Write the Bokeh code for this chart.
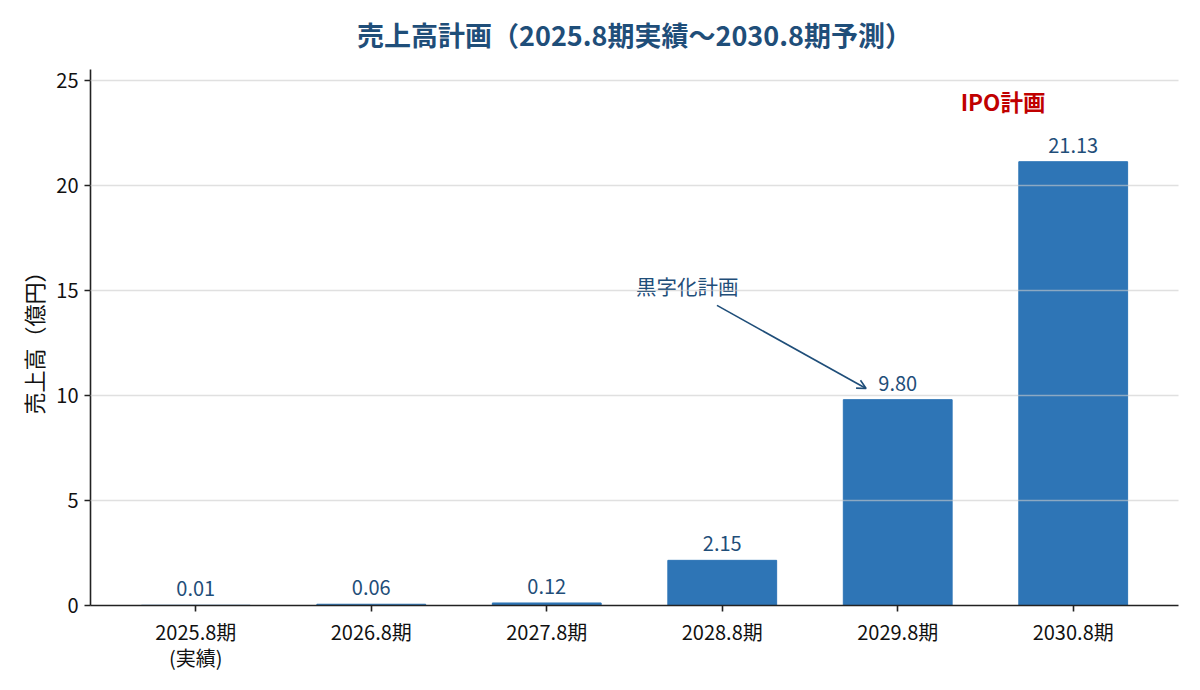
from bokeh.plotting import figure
from bokeh.models import ColumnDataSource, Range1d, FixedTicker, Label, Arrow, OpenHead, LabelSet
from bokeh.core.properties import value
from bokeh.embed import file_html
from bokeh.resources import INLINE

categories = ["2025.8期\n(実績)", "2026.8期", "2027.8期", "2028.8期", "2029.8期", "2030.8期"]
sales = [0.01, 0.06, 0.12, 2.15, 9.80, 21.13]
y_ticks = [0, 5, 10, 15, 20, 25]
title_text = "売上高計画（2025.8期実績～2030.8期予測）"

FONT = "Noto Sans CJK JP"
BAR = "#2e75b6"
DARK = "#1f4e79"

xs = list(range(len(categories)))
src = ColumnDataSource(dict(x=xs, top=sales, label=[f"{v:.2f}" for v in sales]))

X0, X1 = -0.6, len(categories) - 0.4
YMAX = 25.52
p = figure(width=1200, height=690, output_backend="svg", toolbar_location=None,
           x_range=Range1d(X0, X1), y_range=Range1d(0, YMAX),
           min_border_left=90, min_border_right=22, min_border_top=69, min_border_bottom=85)

p.title.text = title_text
p.title.align = "center"
p.title.vertical_align = "top"
p.title.text_font = FONT
p.title.text_font_size = "27px"
p.title.text_font_style = "bold"
p.title.text_color = DARK
p.title.text_line_height = 0.7
p.title.standoff = 28

p.vbar(x="x", top="top", width=0.62, bottom=0, source=src, color=BAR)

labels = LabelSet(x="x", y="top", text="label", source=src, text_align="center",
                  text_baseline="bottom", y_offset=9, text_font=value(FONT),
                  text_font_size=value("20px"), text_color=DARK)
p.add_layout(labels)

p.outline_line_color = None
p.xgrid.grid_line_color = None
p.ygrid.grid_line_color = "#cccccc"
p.ygrid.grid_line_alpha = 0.6
p.ygrid.grid_line_width = 1.3
p.ygrid.level = "overlay"

for ax in (p.xaxis[0], p.yaxis[0]):
    ax.axis_line_color = "#222222"
    ax.axis_line_width = 1.6
    ax.major_tick_line_color = "#222222"
    ax.major_tick_line_width = 1.6
    ax.major_tick_out = 6
    ax.major_tick_in = 0
    ax.minor_tick_line_color = None
    ax.major_label_text_font = FONT
    ax.major_label_text_font_size = "20px"
    ax.major_label_text_color = "#111111"
    ax.major_label_text_line_height = 0.9

p.xaxis.ticker = FixedTicker(ticks=xs)
p.xaxis.major_label_overrides = {i: c for i, c in enumerate(categories)}
p.xaxis.major_label_standoff = 5
p.yaxis.ticker = FixedTicker(ticks=y_ticks)
p.yaxis.major_label_standoff = 6
p.yaxis.axis_label = "売上高（億円）"
p.yaxis.axis_label_text_font = FONT
p.yaxis.axis_label_text_font_size = "22px"
p.yaxis.axis_label_text_font_style = "normal"
p.yaxis.axis_label_text_color = "#111111"
p.yaxis.axis_label_standoff = 4

# annotations
ann_text_x, ann_text_y = 2.80, 15.2
arrow_start = (2.97, 14.29)
arrow_end = (3.82, 10.33)
p.add_layout(Label(x=ann_text_x, y=ann_text_y, text="黒字化計画", text_align="center",
                   text_baseline="middle", text_font=FONT, text_font_size="20.5px",
                   text_color=DARK))
p.add_layout(Arrow(x_start=arrow_start[0], y_start=arrow_start[1], x_end=arrow_end[0], y_end=arrow_end[1],
                   line_color=DARK, line_width=1.6,
                   end=OpenHead(size=9, line_color=DARK, line_width=1.6)))

ipo_x, ipo_y = 4.6, 24.0
p.add_layout(Label(x=ipo_x, y=ipo_y, text="IPO計画", text_align="center",
                   text_baseline="middle", text_font=FONT, text_font_size="22.5px",
                   text_font_style="bold", text_color="#c00000"))

open("out.html", "w").write(file_html(p, INLINE))
